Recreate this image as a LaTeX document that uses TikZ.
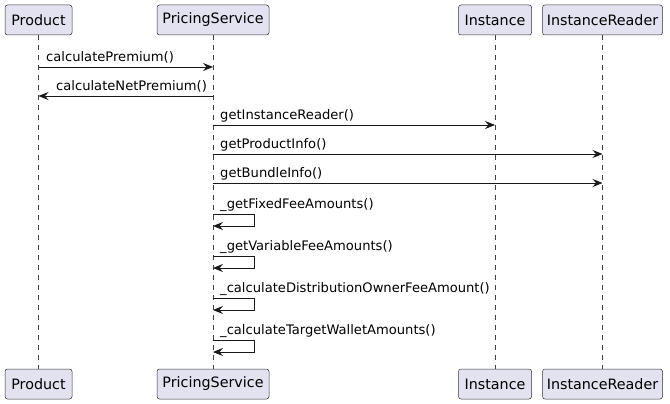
\documentclass[tikz,border=0pt]{standalone}
\usepackage{fontspec}
\setmainfont{DejaVu Sans}
\usetikzlibrary{arrows.meta}
\begin{document}
\begin{tikzpicture}[x=1pt,y=-1pt,
  part/.style={draw=black!80,fill=boxfill,rounded corners=2.5pt,line width=0.5pt,minimum height=30pt,inner sep=0pt,font=\fontsize{14.3pt}{17pt}\selectfont},
  life/.style={draw=black!75,dash pattern=on 5pt off 5pt,line width=0.5pt},
  msg/.style={draw=black!90,line width=0.9pt,-{Stealth[length=10pt,width=8pt,inset=3.5pt]}},
  lbl/.style={anchor=west,inner sep=0pt,font=\fontsize{13.1pt}{15pt}\selectfont}]
\definecolor{boxfill}{HTML}{E2E2F0}
\useasboundingbox (0,0) rectangle (670,404);
% participants
\node[part,minimum width=67pt] (pt) at (38.5,20) {Product};
\node[part,minimum width=112pt] (st) at (213,20) {PricingService};
\node[part,minimum width=73pt] (it) at (495,20) {Instance};
\node[part,minimum width=120pt] (rt) at (602.5,20) {InstanceReader};
\node[part,minimum width=67pt] (pb) at (38.5,384) {Product};
\node[part,minimum width=112pt] (sb) at (213,384) {PricingService};
\node[part,minimum width=73pt] (ib) at (495,384) {Instance};
\node[part,minimum width=120pt] (rb) at (602.5,384) {InstanceReader};
% lifelines
\draw[life] (pt.south) -- (pb.north);
\draw[life] (st.south) -- (sb.north);
\draw[life] (it.south) -- (ib.north);
\draw[life] (rt.south) -- (rb.north);
% message coordinates
\coordinate (p1) at (38.5,67); \coordinate (s1) at (213,67);
\coordinate (p2) at (38.5,96); \coordinate (s2) at (213,96);
\coordinate (s3) at (213,125); \coordinate (i3) at (495,125);
\coordinate (s4) at (213,154); \coordinate (r4) at (602.5,154);
\coordinate (s5) at (213,183); \coordinate (r5) at (602.5,183);
\draw[msg] (p1) -- (s1);
\node[lbl] (l1) at (46,57) {calculatePremium()};
\draw[msg] (s2) -- (p2);
\node[lbl] (l2) at (56,86) {calculateNetPremium()};
\draw[msg] (s3) -- (i3);
\node[lbl] (l3) at (220,116) {getInstanceReader()};
\draw[msg] (s4) -- (r4);
\node[lbl] (l4) at (220,145) {getProductInfo()};
\draw[msg] (s5) -- (r5);
\node[lbl] (l5) at (220,174) {getBundleInfo()};
% self messages
\foreach \y/\t [count=\k] in {214/\_getFixedFeeAmounts(),256/\_getVariableFeeAmounts(),298/\_calculateDistributionOwnerFeeAmount(),340/\_calculateTargetWalletAmounts()}{
  \coordinate (a\k) at (213,\y);
  \coordinate (b\k) at (254,\y);
  \coordinate (c\k) at (254,\y+12);
  \coordinate (d\k) at (213,\y+12);
  \draw[msg] (a\k) -- (b\k) -- (c\k) -- (d\k);
  \node[lbl] (sl\k) at (220,\y-9) {\t};
}
\end{tikzpicture}
\end{document}
